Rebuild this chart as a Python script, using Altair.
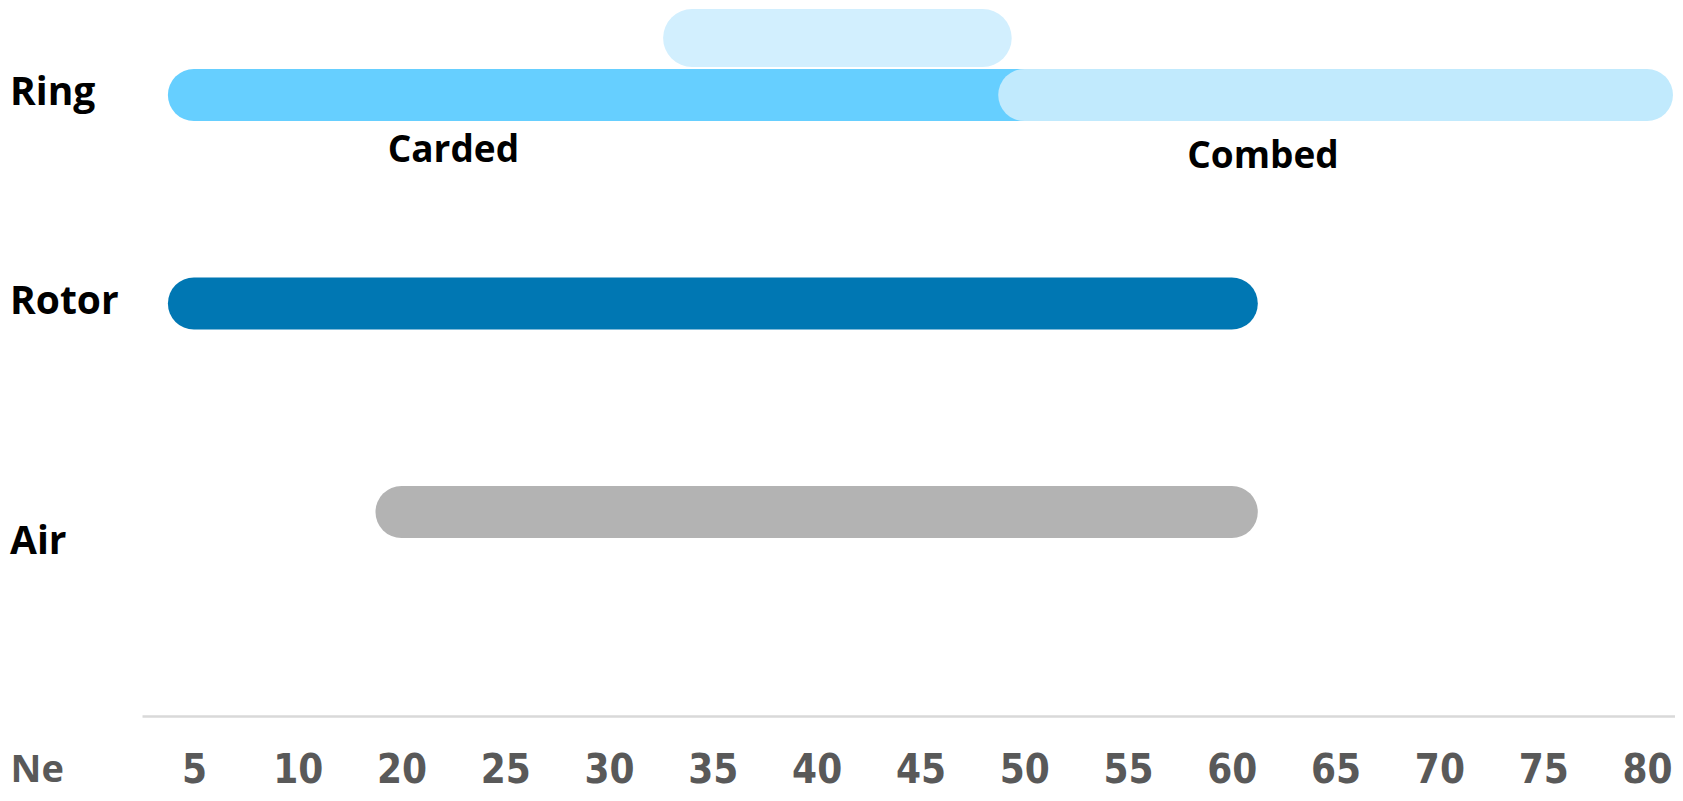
import altair as alt
import numpy as np
import pandas as pd

# Axis categories (Ne count)
ne_ticks = [5, 10, 20, 25, 30, 35, 40, 45, 50, 55, 60, 65, 70, 75, 80]

# Spinning process rows
rows = ["Ring", "Rotor", "Air"]

# Range bars
bar_process = ["Ring", "Ring", "Rotor", "Air"]
bar_segment = ["Carded", "Combed", "Rotor", "Air"]
bar_start = [5, 50, 5, 20]
bar_end = [50, 80, 60, 60]
bar_colors = ["#66CFFF", "#C1EAFD", "#0077B3", "#B3B3B3"]

# Overlap band above Ring (carded / combed overlap)
overlap_process = ["Ring"]
overlap_start = [34]
overlap_end = [48]

# Annotations under Ring bar
note_text = ["Carded", "Combed"]
note_at = [22.5, 61.5]


def pos(v):
    return float(np.interp(v, ne_ticks, list(range(len(ne_ticks)))))


bars_df = pd.DataFrame({
    "process": bar_process,
    "segment": bar_segment,
    "x0": [pos(v) for v in bar_start],
    "x1": [pos(v) for v in bar_end],
})
overlap_df = pd.DataFrame({
    "process": overlap_process,
    "x0": [pos(v) for v in overlap_start],
    "x1": [pos(v) for v in overlap_end],
})
notes_df = pd.DataFrame({
    "process": ["Ring"] * len(note_text),
    "text": note_text,
    "x": [pos(v) for v in note_at],
})
rows_df = pd.DataFrame({"process": rows})

x_scale = alt.Scale(domain=[-0.5, 14.27], nice=False, zero=False)
y_scale = alt.Scale(type="point", domain=rows, range=[87, 504], padding=0)

TICK_FONT = "Liberation Sans Narrow, DejaVu Sans Condensed, sans-serif"
LABEL_FONT = "Open Sans, Lato, sans-serif"

x_axis = alt.Axis(
    values=list(range(len(ne_ticks))),
    labelExpr=f"{ne_ticks}[datum.value]",
    grid=False,
    ticks=False,
    tickSize=0,
    domainColor="#D9D9D9",
    domainWidth=2.5,
    labelFont=TICK_FONT,
    labelFontSize=40,
    labelFontWeight="bold",
    labelColor="#595959",
    labelPadding=54,
    labelBaseline="middle",
    labelFlush=False,
    labelOverlap=False,
    titleX=-132,
    titleY=54,
    titleAlign="left",
    titleBaseline="middle",
    titleFont=LABEL_FONT,
    titleFontSize=38,
    titleFontWeight="bold",
    titleColor="#595959",
)


def xenc(field):
    return alt.X(field, scale=x_scale, axis=x_axis, title="Ne")


def yenc():
    return alt.Y("process:N", scale=y_scale, axis=None)


overlap = alt.Chart(overlap_df).mark_rule(
    strokeWidth=58, strokeCap="round", yOffset=-57, color="#D2EFFE"
).encode(x=xenc("x0:Q"), x2="x1:Q", y=yenc())

bars = alt.Chart(bars_df).mark_rule(strokeWidth=52, strokeCap="round").encode(
    x=xenc("x0:Q"),
    x2="x1:Q",
    y=yenc(),
    color=alt.Color("segment:N", scale=alt.Scale(domain=bar_segment, range=bar_colors), legend=None),
)

note_style = dict(align="center", baseline="middle", font=LABEL_FONT, fontSize=37,
                  fontWeight="bold", color="#000000")

notes_carded = alt.Chart(notes_df).transform_filter(
    alt.datum.text == "Carded"
).mark_text(dy=56, **note_style).encode(x=xenc("x:Q"), y=yenc(), text="text:N")

notes_combed = alt.Chart(notes_df).transform_filter(
    alt.datum.text == "Combed"
).mark_text(dy=62, **note_style).encode(x=xenc("x:Q"), y=yenc(), text="text:N")

label_style = dict(align="left", baseline="middle", font=LABEL_FONT, fontSize=39,
                   fontWeight="bold", color="#000000")

row_labels_top = alt.Chart(rows_df).transform_filter(
    alt.datum.process != "Air"
).mark_text(dy=-2, **label_style).encode(x=alt.value(-132), y=yenc(), text="process:N")

row_labels_air = alt.Chart(rows_df).transform_filter(
    alt.datum.process == "Air"
).mark_text(dy=30, **label_style).encode(x=alt.value(-132), y=yenc(), text="process:N")

chart = alt.layer(overlap, bars, notes_carded, notes_combed, row_labels_top, row_labels_air).properties(
    width=1533,
    height=708,
    padding={"left": 134, "top": 0, "right": 0, "bottom": 77},
    autosize=alt.AutoSizeParams(type="none"),
).configure_view(strokeWidth=0)

chart.save("out.html", embed_options={"renderer": "svg", "actions": False})
